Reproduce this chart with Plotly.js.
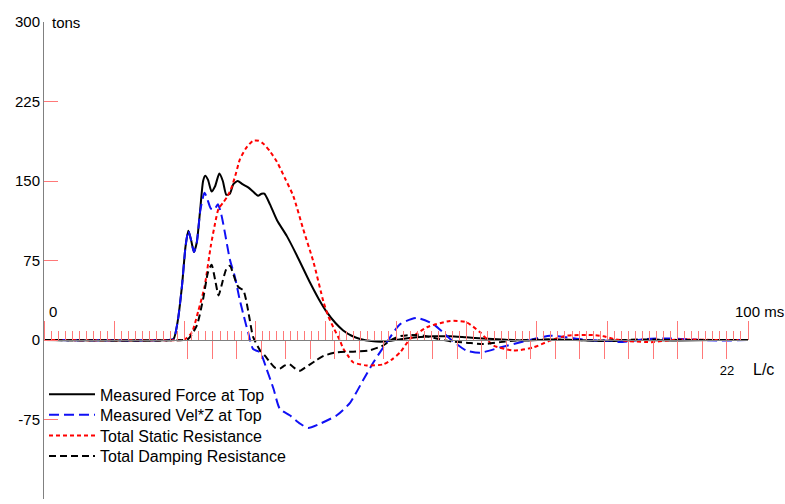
<!DOCTYPE html>
<html>
<head>
<meta charset="utf-8">
<script src="https://cdn.plot.ly/plotly-3.0.1.min.js"></script>
<style>html,body{margin:0;padding:0;background:#fff}#chart{width:785px;height:504px}</style>
</head>
<body>
<div id="chart"></div>
<script>
// ---- data (time in ms, force in tons) ----
const forceT = [0, 17.5, 18.4, 19.0, 19.6, 20.1, 20.5, 20.9, 21.3, 21.7, 22.2, 22.6, 22.9, 23.3, 23.8, 24.3, 24.9, 25.4, 25.9, 26.4, 26.9, 27.5, 28.2, 29.0, 29.7, 30.4, 30.9, 31.3, 32.1, 33.1, 34.5, 35.9, 37.8, 39.0, 40.2, 41.4, 42.5, 43.7, 44.9, 46.5, 48.2, 50.5, 52.9, 55.3, 57.7, 60.0, 62.4, 65, 68, 72, 76, 80, 85, 90, 95, 100];
const forceV = [0, 0, 1, 18, 51, 88, 103, 94, 83, 92, 124, 150, 155, 151, 140, 145, 157, 150, 137, 138, 147, 150, 147, 144, 140, 136, 138, 138, 128, 113, 98, 80, 54, 39, 26, 16, 9, 4, 1, -1, -1.5, 0.5, 2.5, 3.5, 3.5, 2.5, 1.5, 0.5, -0.5, 0.5, 0, -1, 0, -0.5, 0, 0];

const velT = [0, 17.5, 18.4, 19.0, 19.6, 20.1, 20.5, 20.9, 21.3, 21.7, 22.2, 22.8, 23.2, 23.7, 24.2, 24.7, 25.2, 25.7, 26.4, 27.1, 27.8, 28.4, 29.0, 29.7, 30.7, 31.6, 32.6, 33.5, 34.9, 36.4, 37.5, 39.2, 41.6, 43.5, 45.4, 46.8, 48.7, 50.6, 52.9, 55.3, 57.7, 60.0, 62.0, 64.8, 68.6, 71.9, 74.2, 77, 80.9, 81.8, 85.6, 88.9, 92, 96, 100];
const velV = [0, 0, 1, 18, 51, 88, 103, 94, 83, 92, 122, 139, 133, 124, 123, 128, 118, 101, 76, 60, 38, 22, 7, -8.5, -11.6, -27, -46, -65, -71, -79, -83, -79, -71, -59, -37, -21, -2, 15, 20.8, 15, 1, -10, -12, -7, -0.6, 4, 2.5, 0, -1, -2, 1, 1.5, 0.5, -0.5, 0];

const staticT = [0, 19.5, 20.0, 21.0, 21.9, 22.8, 23.7, 24.3, 24.8, 25.5, 26.1, 26.7, 27.3, 27.8, 28.7, 29.7, 30.5, 31.2, 32.1, 33.1, 34.2, 35.4, 36.8, 38.3, 39.7, 40.4, 41.1, 42.0, 42.5, 43.2, 43.9, 45.8, 48.2, 49.5, 50.6, 52.0, 54.4, 57.7, 60.0, 62.0, 63.8, 66.7, 69.5, 71.9, 74.2, 78.0, 79.5, 80.9, 83, 86.5, 89, 92, 95, 100];
const staticV = [0, 0, 0.5, 7, 27, 50, 89, 110, 124, 130, 136, 145, 158, 170, 181, 188, 188, 185, 178, 168, 153, 136, 105, 73, 36, 22, 12, 0, -8, -15, -21, -24, -23, -18, -11.6, 1, 12, 18, 16.7, 7, -5, -10, -7, -0.6, 4, 4.7, 3.5, 1, -1, -2, 0, 0.5, 0, 0];

const dampT = [0, 19.8, 20.5, 21.7, 22.6, 23.3, 23.8, 24.3, 24.8, 25.2, 25.9, 26.4, 27.1, 27.6, 28.3, 28.7, 29.2, 29.7, 30.7, 31.4, 32.1, 32.8, 33.5, 34.2, 34.9, 35.7, 36.4, 37.1, 37.8, 38.7, 39.7, 41.6, 43.9, 46.1, 47.5, 48.2, 49.6, 50.5, 52.0, 54.0, 56.0, 58.0, 60.0, 62.4, 64.8, 67, 70, 75, 80, 85, 90, 100];
const dampV = [0, 0, 1, 13.5, 38.7, 64, 71, 57, 42, 51, 67, 70, 58, 50, 47, 38, 20, 3, -10, -15, -21, -26, -27, -24, -23, -27, -29, -26, -23, -19, -15, -11.6, -11, -10, -7, -5, 1, 3.5, 4.7, 4, 1, -1.5, -2.5, -3.8, -2, -0.5, 0.5, 0, -0.5, 0.5, 0, 0];

const seriesNames = ['Measured Force at Top', 'Measured Vel*Z at Top', 'Total Static Resistance', 'Total Damping Resistance'];
const yTickVals = [-150, -75, 0, 75, 150, 225, 300];
const lcStart = 20.45;   // ms, first L/c mark
const lcStep = 3.48;     // ms per L/c
const lcCount = [0,1,2,3,4,5,6,7,8,9,10,11,12,13,14,15,16,17,18,19,20,21,22];
const lcLabelled = 22;

const FONT = 'Arial, "Liberation Sans", sans-serif';
const TICKRED = '#ff7878';
const legendIds = ['legend', 'legend2', 'legend3', 'legend4'];

const traces = [
  {x: forceT, y: forceV, name: seriesNames[0], type: 'scatter', mode: 'lines', legend: legendIds[0],
   line: {color: '#000000', width: 2, shape: 'spline', smoothing: 0.6}},
  {x: velT, y: velV, name: seriesNames[1], type: 'scatter', mode: 'lines', legend: legendIds[1],
   line: {color: '#1010f5', width: 2, dash: '10px,5px', shape: 'spline', smoothing: 0.6}},
  {x: staticT, y: staticV, name: seriesNames[2], type: 'scatter', mode: 'lines', legend: legendIds[2],
   line: {color: '#ff0000', width: 2, dash: '4px,3px', shape: 'spline', smoothing: 0.6}},
  {x: dampT, y: dampV, name: seriesNames[3], type: 'scatter', mode: 'lines', legend: legendIds[3],
   line: {color: '#000000', width: 2, dash: '7px,4px', shape: 'spline', smoothing: 0.6}},
  {x: [], y: [], xaxis: 'x2', yaxis: 'y', showlegend: false, hoverinfo: 'skip', type: 'scatter'}
];

const layout = {
  width: 785, height: 504,
  margin: {l: 44, r: 37, t: 22, b: 5, pad: 0},
  paper_bgcolor: '#ffffff', plot_bgcolor: '#ffffff',
  font: {family: FONT, size: 15, color: '#000000'},
  showlegend: true,
  xaxis: {
    range: [0, 100], anchor: 'free', position: 1/3, side: 'top',
    showline: true, linecolor: '#808080', linewidth: 1,
    showgrid: false, zeroline: false,
    ticks: 'outside', ticklen: 19, tickcolor: TICKRED, tickwidth: 1,
    tickmode: 'linear', tick0: 0, dtick: 10, showticklabels: false,
    minor: {ticks: 'outside', ticklen: 9, tickcolor: TICKRED, tickwidth: 1, dtick: 1, tick0: 0, showgrid: false}
  },
  xaxis2: {
    range: [0, 100], overlaying: 'x', anchor: 'free', position: 1/3, side: 'bottom',
    showline: false, showgrid: false, zeroline: false,
    ticks: 'outside', ticklen: 18, tickcolor: TICKRED, tickwidth: 1,
    tickmode: 'array',
    tickvals: lcCount.map(k => lcStart + k * lcStep),
    ticktext: lcCount.map(k => k === lcLabelled ? String(k) : ''),
    tickfont: {family: FONT, size: 13, color: '#000'}
  },
  yaxis: {
    range: [-150, 300], anchor: 'x',
    showline: true, linecolor: '#808080', linewidth: 1,
    showgrid: false, zeroline: false,
    ticks: 'inside', ticklen: 14, tickcolor: TICKRED, tickwidth: 1,
    tickmode: 'array', tickvals: yTickVals, ticktext: yTickVals.map(String),
    tickfont: {family: FONT, size: 15, color: '#000'}
  },
  annotations: [
    {text: 'tons', xref: 'x', yref: 'y', x: 0, y: 300, xanchor: 'left', yanchor: 'middle', xshift: 6, showarrow: false, font: {family: FONT, size: 15, color: '#000'}},
    {text: '0', xref: 'x', yref: 'y', x: 0, y: 0, xanchor: 'left', yanchor: 'middle', xshift: 3, yshift: 29, showarrow: false, font: {family: FONT, size: 15, color: '#000'}},
    {text: '100 ms', xref: 'x', yref: 'y', x: 100, y: 0, xanchor: 'left', yanchor: 'middle', xshift: -15, yshift: 29, showarrow: false, font: {family: FONT, size: 15, color: '#000'}},
    {text: 'L/c', xref: 'x', yref: 'y', x: 100, y: 0, xanchor: 'left', yanchor: 'middle', xshift: 3, yshift: -29, showarrow: false, font: {family: FONT, size: 16, color: '#000'}}
  ]
};

// one legend per series so the rows can sit at the reference's tighter spacing
const rowStep = 20.6 / 477;
legendIds.forEach((id, i) => {
  layout[id] = {x: 0.0, y: 0.255 - i * rowStep, xanchor: 'left', yanchor: 'top',
                bgcolor: 'rgba(0,0,0,0)', font: {family: FONT, size: 16, color: '#000'},
                itemwidth: 46, tracegroupgap: 0};
});

Plotly.newPlot('chart', traces, layout, {displayModeBar: false, staticPlot: true});
</script>
</body>
</html>
